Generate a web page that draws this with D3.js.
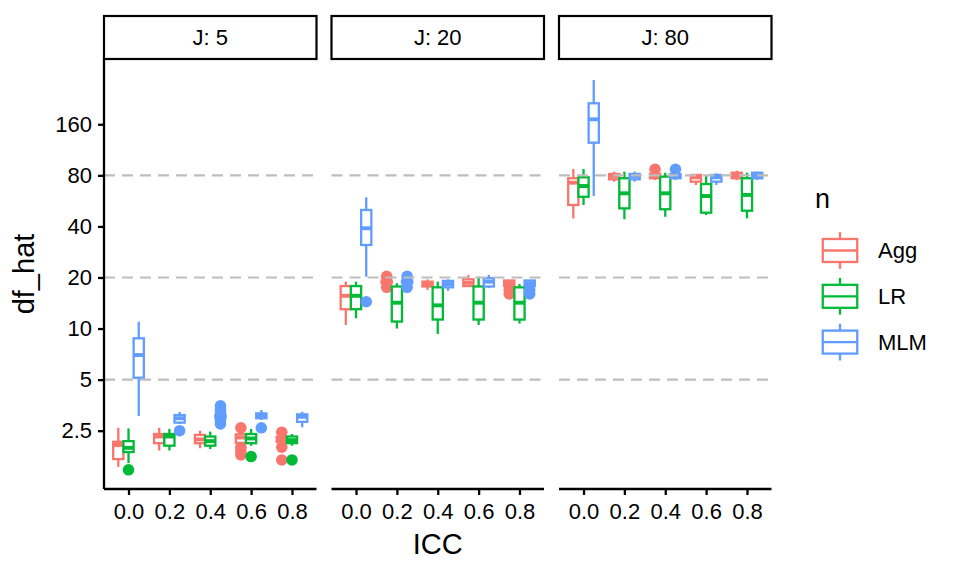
<!DOCTYPE html>
<html>
<head>
<meta charset="utf-8">
<script src="https://cdn.jsdelivr.net/npm/d3@7"></script>
<style>
  body { margin: 0; background: #fff; }
  text { font-family: "Liberation Sans", Arial, Helvetica, sans-serif; }
</style>
</head>
<body>
<svg id="chart" width="960" height="576"></svg>
<script>
// facet levels, x categories and groups
let jLevels = ["5", "20", "80"]
let iccLevels = ["0.0", "0.2", "0.4", "0.6", "0.8"]
let methods = ["Agg", "LR", "MLM"]
let methodColors = ["#F8766D", "#00BA38", "#619CFF"]

let yTicks = [2.5, 5, 10, 20, 40, 80, 160]
let refLines = [5, 20, 80]

// box stats per row: J, ICC, lower whisker, q1, median, q3, upper whisker
let aggBoxes = [
  ["5", "0.0", 1.53, 1.70, 2.06, 2.15, 2.60],
  ["5", "0.2", 1.91, 2.11, 2.31, 2.39, 2.60],
  ["5", "0.4", 1.97, 2.11, 2.22, 2.36, 2.50],
  ["5", "0.6", 2.02, 2.12, 2.28, 2.38, 2.50],
  ["5", "0.8", 2.08, 2.15, 2.22, 2.30, 2.38],
  ["20", "0.0", 10.5, 13.0, 15.6, 17.8, 18.9],
  ["20", "0.2", 18.2, 18.5, 18.9, 19.2, 19.5],
  ["20", "0.4", 16.9, 17.7, 18.3, 18.9, 19.5],
  ["20", "0.6", 17.7, 17.8, 18.6, 19.5, 20.7],
  ["20", "0.8", 17.6, 17.8, 18.5, 19.2, 19.3],
  ["80", "0.0", 44.6, 53.5, 72.4, 76.9, 87.2],
  ["80", "0.2", 73.4, 75.8, 79.3, 81.5, 84.1],
  ["80", "0.4", 75.1, 76.9, 79.3, 81.5, 82.6],
  ["80", "0.6", 70.2, 73.4, 77.9, 80.4, 81.5],
  ["80", "0.8", 75.1, 76.9, 80.0, 82.9, 85.2]
]

let lrBoxes = [
  ["5", "0.0", 1.61, 1.87, 1.98, 2.17, 2.58],
  ["5", "0.2", 1.91, 2.04, 2.31, 2.39, 2.56],
  ["5", "0.4", 1.95, 2.04, 2.17, 2.31, 2.47],
  ["5", "0.6", 2.04, 2.11, 2.25, 2.39, 2.56],
  ["5", "0.8", 2.04, 2.11, 2.20, 2.31, 2.39],
  ["20", "0.0", 11.5, 13.0, 15.6, 17.8, 18.9],
  ["20", "0.2", 10.0, 11.0, 14.2, 17.7, 18.5],
  ["20", "0.4", 9.3, 11.3, 13.7, 17.5, 18.9],
  ["20", "0.6", 10.5, 11.3, 14.2, 17.7, 20.2],
  ["20", "0.8", 10.7, 11.3, 14.2, 17.5, 18.3],
  ["80", "0.0", 53.5, 59.8, 69.2, 77.9, 87.2],
  ["80", "0.2", 44.1, 51.1, 62.7, 76.9, 84.1],
  ["80", "0.4", 45.6, 50.5, 62.7, 78.6, 82.9],
  ["80", "0.6", 46.7, 48.2, 60.4, 71.1, 79.3],
  ["80", "0.8", 44.6, 49.5, 61.3, 76.9, 82.9]
]

let mlmBoxes = [
  ["5", "0.0", 3.05, 5.13, 6.98, 8.76, 10.97],
  ["5", "0.2", 2.74, 2.79, 2.96, 3.09, 3.23],
  ["5", "0.4", 2.93, 2.97, 3.02, 3.09, 3.13],
  ["5", "0.6", 2.89, 2.96, 3.07, 3.16, 3.31],
  ["5", "0.8", 2.62, 2.82, 3.02, 3.12, 3.23],
  ["20", "0.0", 20.2, 31.1, 39.0, 50.0, 59.4],
  ["20", "0.2", 18.2, 18.5, 18.9, 19.2, 19.5],
  ["20", "0.4", 16.7, 17.5, 18.3, 19.1, 19.5],
  ["20", "0.6", 17.3, 17.7, 18.9, 19.8, 20.7],
  ["20", "0.8", 17.6, 17.8, 18.5, 19.2, 19.3],
  ["80", "0.0", 60.4, 124.6, 171.2, 212.7, 291.8],
  ["80", "0.2", 73.4, 75.8, 79.3, 81.5, 84.1],
  ["80", "0.4", 75.1, 76.9, 79.3, 81.5, 82.6],
  ["80", "0.6", 70.2, 73.4, 77.9, 80.4, 82.2],
  ["80", "0.8", 75.1, 76.9, 80.0, 82.9, 84.1]
]

// outliers per row: J, ICC, value
let aggOutliers = [
  ["5", "0.6", 2.6], ["5", "0.6", 2.0], ["5", "0.6", 1.9], ["5", "0.6", 1.8],
  ["5", "0.8", 2.45], ["5", "0.8", 2.0], ["5", "0.8", 1.68],
  ["20", "0.2", 20.3], ["20", "0.2", 17.5],
  ["20", "0.8", 16.9], ["20", "0.8", 16.0],
  ["80", "0.4", 86.9]
]

let lrOutliers = [
  ["5", "0.0", 1.47],
  ["5", "0.6", 1.76],
  ["5", "0.8", 1.68]
]

let mlmOutliers = [
  ["5", "0.2", 2.5],
  ["5", "0.4", 3.50], ["5", "0.4", 3.36], ["5", "0.4", 3.22], ["5", "0.4", 2.85], ["5", "0.4", 2.74],
  ["5", "0.6", 2.60],
  ["20", "0.0", 14.4],
  ["20", "0.2", 20.3], ["20", "0.2", 17.5],
  ["20", "0.8", 16.9], ["20", "0.8", 16.0],
  ["80", "0.4", 86.9]
]

let boxSets = [aggBoxes, lrBoxes, mlmBoxes]
let outlierSets = [aggOutliers, lrOutliers, mlmOutliers]

//layout
let svg = d3.select("#chart")
let panelLeft = 104
let panelWidth = 212.5
let panelGap = 15
let panelTop = 59
let panelBottom = 489
let stripTop = 16
let lineW = 2.3

let yscale = d3.scaleLog()
  .domain([1.133, 388])
  .range([panelBottom, panelTop])

let xscale = d3.scalePoint()
  .domain(iccLevels)
  .range([0, panelWidth])
  .padding(0.6)

let step = xscale.step()
let dodge = step * 0.25
let halfBox = step * 0.125

jLevels.forEach(function(j, p) {
  let panel = svg.append("g")
    .attr("transform", "translate(" + (panelLeft + p * (panelWidth + panelGap)) + ",0)")

  //strip
  panel.append("rect")
    .attr("x", 0)
    .attr("y", stripTop)
    .attr("width", panelWidth)
    .attr("height", panelTop - stripTop)
    .attr("fill", "white")
    .attr("stroke", "black")
    .attr("stroke-width", 2.2)

  panel.append("text")
    .attr("x", panelWidth / 2)
    .attr("y", (stripTop + panelTop) / 2)
    .attr("dy", "0.36em")
    .attr("text-anchor", "middle")
    .style("font-size", "22px")
    .text("J: " + j)

  //boxes
  methods.forEach(function(m, k) {
    let color = methodColors[k]
    let rows = boxSets[k].filter(d => d[0] === j)
    let outs = outlierSets[k].filter(d => d[0] === j)
    let cx = icc => xscale(icc) + (k - 1) * dodge

    panel.append("g").selectAll("circle")
      .data(outs)
      .enter()
      .append("circle")
      .attr("cx", d => cx(d[1]))
      .attr("cy", d => yscale(d[2]))
      .attr("r", 5.8)
      .attr("fill", color)

    let box = panel.append("g").selectAll("g")
      .data(rows)
      .enter()
      .append("g")
      .attr("stroke", color)
      .attr("fill", "none")

    box.append("line")
      .attr("x1", d => cx(d[1])).attr("x2", d => cx(d[1]))
      .attr("y1", d => yscale(d[6])).attr("y2", d => yscale(d[5]))
      .attr("stroke-width", lineW)
    box.append("line")
      .attr("x1", d => cx(d[1])).attr("x2", d => cx(d[1]))
      .attr("y1", d => yscale(d[3])).attr("y2", d => yscale(d[2]))
      .attr("stroke-width", lineW)
    box.append("rect")
      .attr("x", d => cx(d[1]) - halfBox)
      .attr("y", d => yscale(d[5]))
      .attr("width", halfBox * 2)
      .attr("height", d => yscale(d[3]) - yscale(d[5]))
      .attr("fill", "white")
      .attr("stroke-width", lineW)
    box.append("line")
      .attr("x1", d => cx(d[1]) - halfBox).attr("x2", d => cx(d[1]) + halfBox)
      .attr("y1", d => yscale(d[4])).attr("y2", d => yscale(d[4]))
      .attr("stroke-width", lineW * 1.7)
  })

  //dashed reference lines
  panel.append("g").selectAll("line")
    .data(refLines)
    .enter()
    .append("line")
    .attr("x1", 0).attr("x2", panelWidth)
    .attr("y1", d => yscale(d)).attr("y2", d => yscale(d))
    .attr("stroke", "#BEBEBE")
    .attr("stroke-width", 2.2)
    .attr("stroke-dasharray", "11 7")

  //x axis
  let xAxis = panel.append("g")
    .attr("transform", "translate(0," + panelBottom + ")")
    .call(d3.axisBottom(xscale).tickSize(6).tickPadding(8))
  xAxis.select(".domain").attr("d", "M0,0H" + panelWidth).attr("stroke-width", lineW)
  xAxis.selectAll(".tick line").attr("stroke-width", lineW)
  xAxis.selectAll("text").style("font-size", "22px").attr("fill", "black")
})

//y axis on first panel
let yAxis = svg.append("g")
  .attr("transform", "translate(" + panelLeft + ",0)")
  .call(d3.axisLeft(yscale).tickValues(yTicks).tickFormat(d3.format("")).tickSize(6).tickPadding(6))
yAxis.select(".domain").attr("d", "M0," + panelBottom + "V" + panelTop).attr("stroke-width", lineW)
yAxis.selectAll(".tick line").attr("stroke-width", lineW)
yAxis.selectAll("text").style("font-size", "22px").attr("fill", "black")

//axis titles
let panelsRight = panelLeft + 3 * panelWidth + 2 * panelGap
svg.append("text")
  .attr("x", (panelLeft + panelsRight) / 2)
  .attr("y", 554)
  .attr("text-anchor", "middle")
  .style("font-size", "29px")
  .text("ICC")

svg.append("text")
  .attr("transform", "translate(34," + (panelTop + panelBottom) / 2 + ") rotate(-90)")
  .attr("text-anchor", "middle")
  .style("font-size", "29px")
  .text("df_hat")

//legend
let legend = svg.append("g")
svg.append("text")
  .attr("x", 815)
  .attr("y", 208)
  .style("font-size", "27px")
  .text("n")

let keySize = 46
let keyX = 840
methods.forEach(function(m, k) {
  let cy = 250.5 + k * 45.8
  let key = legend.append("g").attr("stroke", methodColors[k]).attr("fill", "none").attr("stroke-width", lineW)
  key.append("line").attr("x1", keyX).attr("x2", keyX)
    .attr("y1", cy - keySize * 0.4).attr("y2", cy + keySize * 0.4)
  key.append("rect")
    .attr("x", keyX - keySize * 0.375).attr("y", cy - keySize * 0.25)
    .attr("width", keySize * 0.75).attr("height", keySize * 0.5)
    .attr("fill", "white")
  key.append("line").attr("x1", keyX - keySize * 0.375).attr("x2", keyX + keySize * 0.375)
    .attr("y1", cy).attr("y2", cy)
  legend.append("text")
    .attr("x", 878)
    .attr("y", cy)
    .attr("dy", "0.36em")
    .style("font-size", "22px")
    .text(m)
})
</script>
</body>
</html>
